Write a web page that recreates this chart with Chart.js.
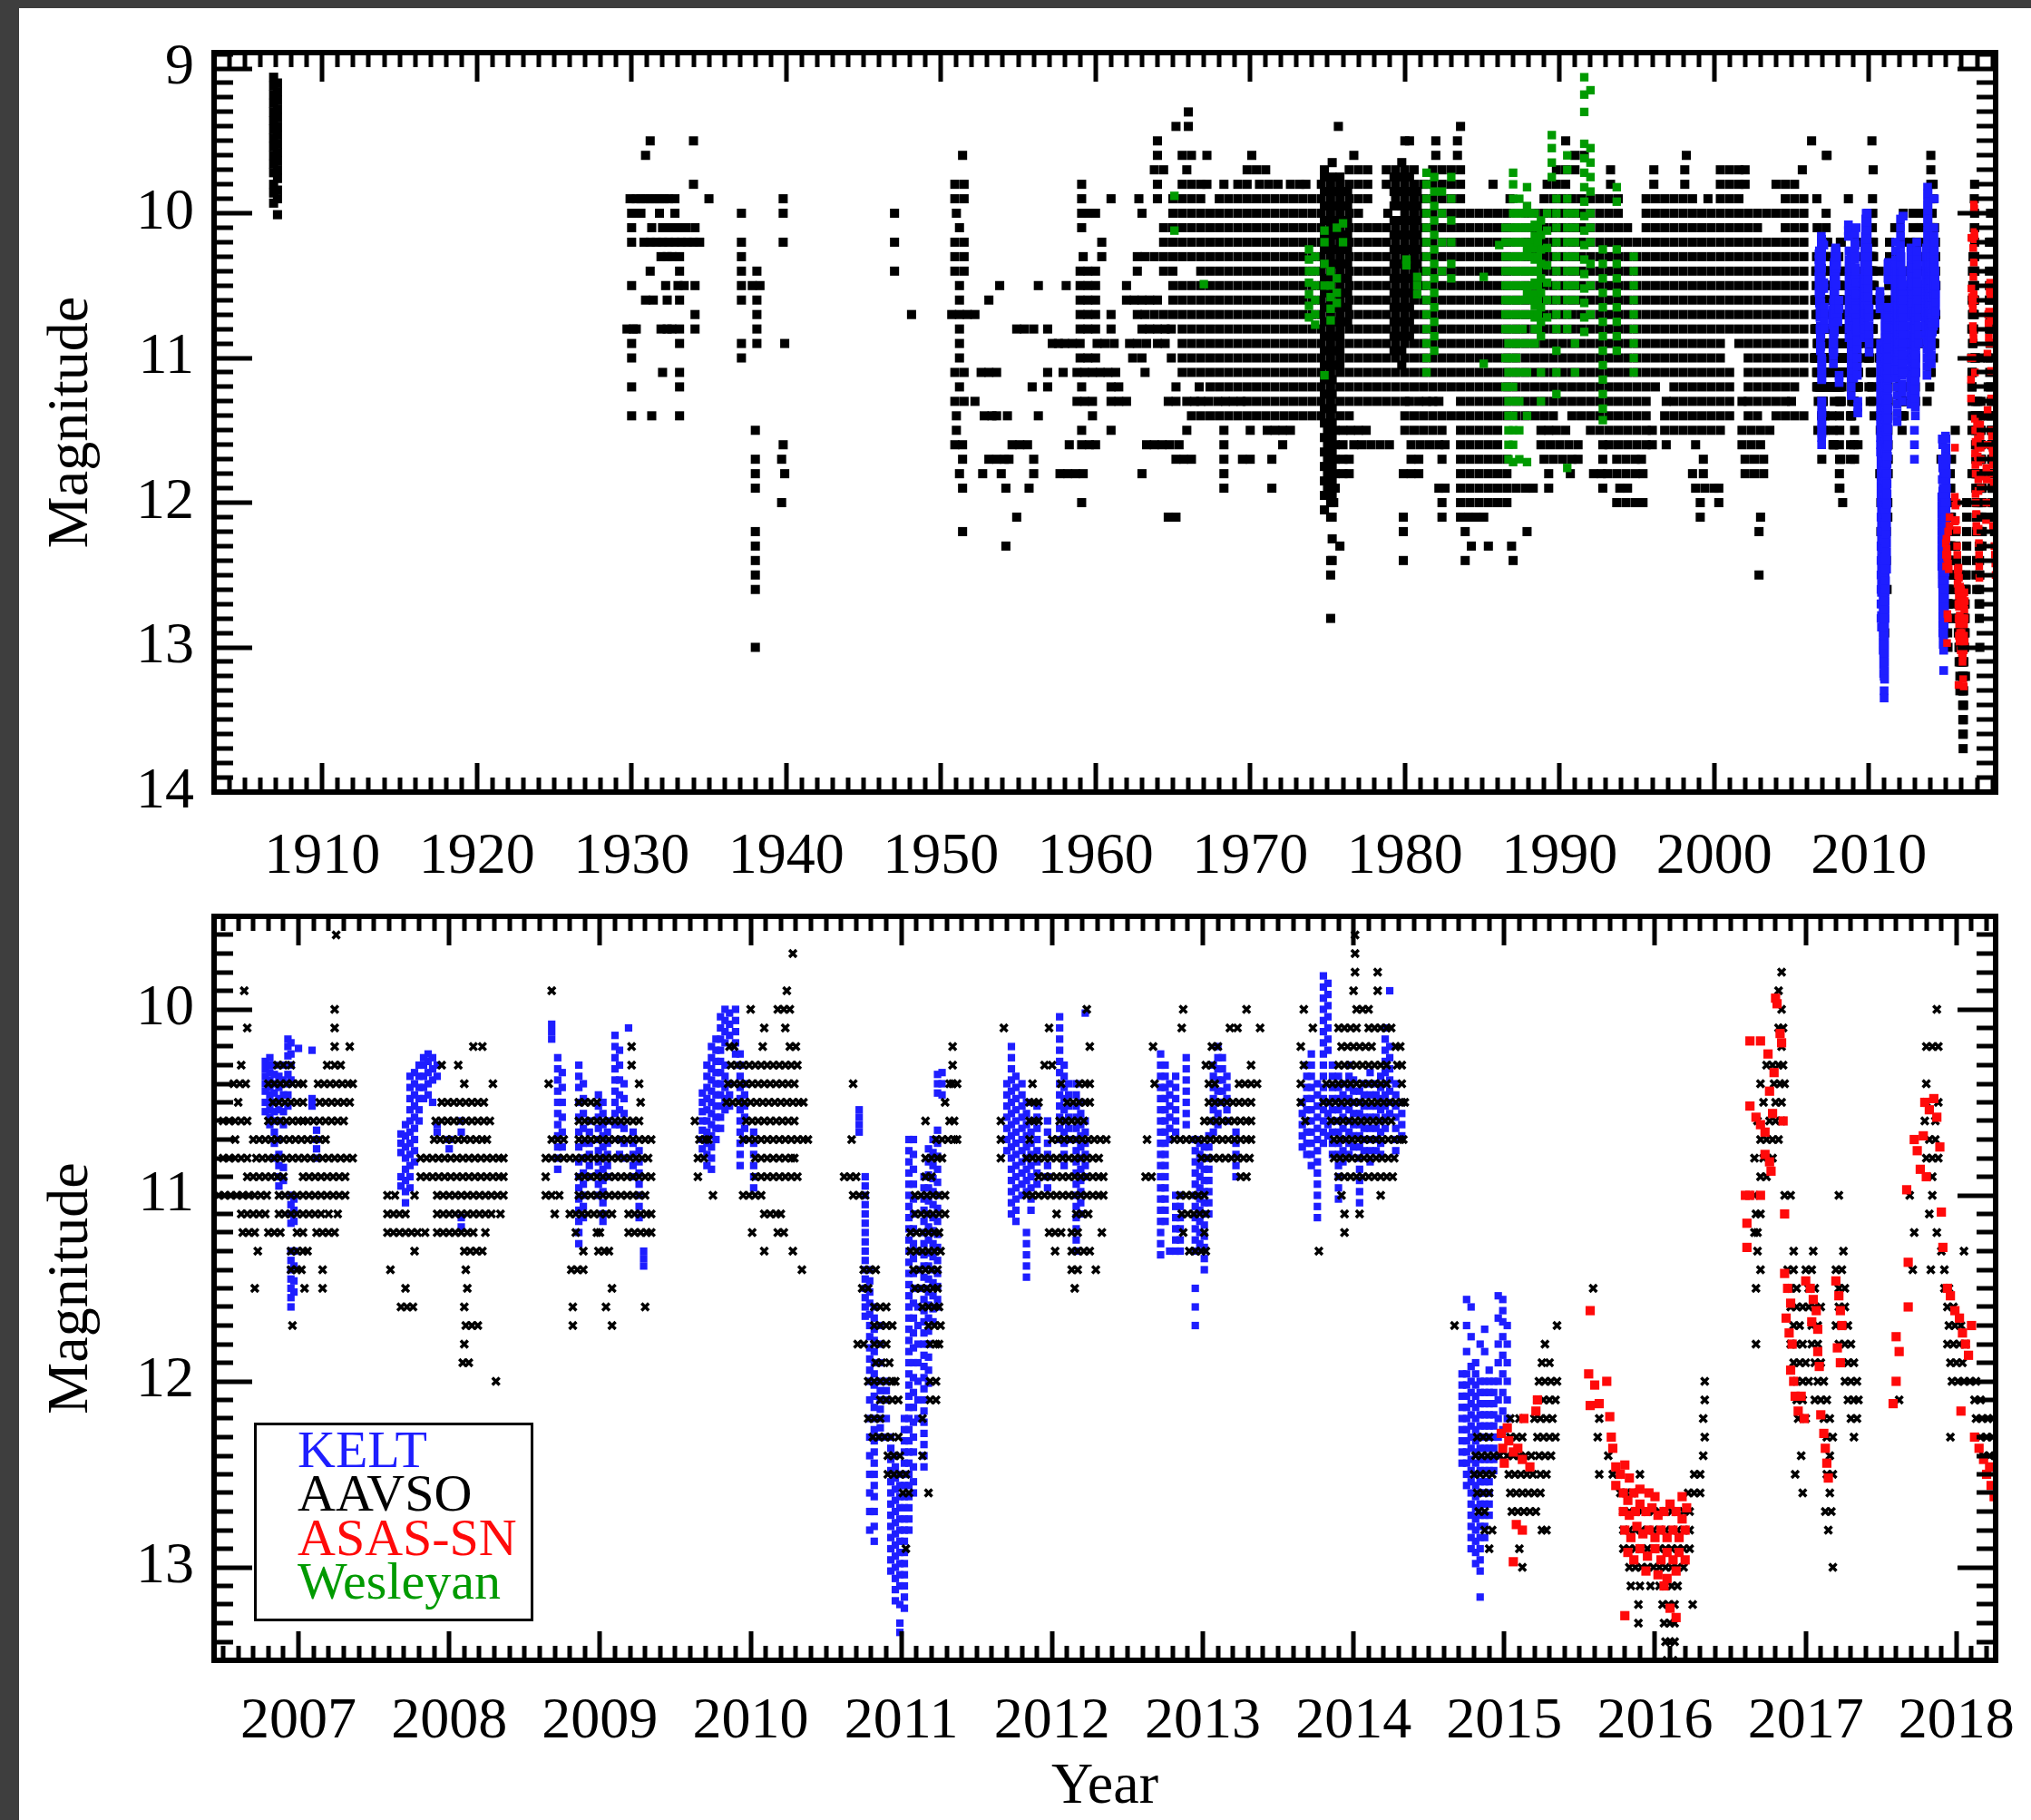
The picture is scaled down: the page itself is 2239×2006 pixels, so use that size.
<!DOCTYPE html>
<html><head><meta charset="utf-8">
<script src="https://cdn.jsdelivr.net/npm/chart.js@4.4.0/dist/chart.umd.min.js"></script>
<style>
html{scrollbar-width:none}
::-webkit-scrollbar{width:0;height:0;display:none}
html,body{margin:0;padding:0;background:#fff;width:2239px;height:2006px;overflow:hidden}
#edgeL{position:absolute;left:0;top:0;width:21px;height:2006px;background:#3e3e3e}
#edgeT{position:absolute;left:0;top:0;width:2239px;height:9px;background:#3e3e3e}
canvas{position:absolute;left:0}
#c1{top:0}
#c2{top:990px}
#legend{position:absolute;left:280px;top:1568px;width:308px;height:219px;box-sizing:border-box;border:3px solid #000;background:#fff;
 font-family:"Liberation Serif","Times New Roman",serif;font-size:58px;line-height:48.3px;padding:3px 0 0 45px;white-space:nowrap;z-index:5}
</style></head><body>
<div id="edgeL"></div><div id="edgeT"></div>
<canvas id="c1" width="2239" height="990"></canvas>
<canvas id="c2" width="2239" height="1024"></canvas>
<div id="legend"></div>
<script>
// ---------- series names / tick labels ----------
const seriesNames = ['KELT', 'AAVSO', 'ASAS-SN', 'Wesleyan'];
const topYearTicks = [1910, 1920, 1930, 1940, 1950, 1960, 1970, 1980, 1990, 2000, 2010];
const bottomYearTicks = [2007, 2008, 2009, 2010, 2011, 2012, 2013, 2014, 2015, 2016, 2017, 2018];
const topMagTicks = [9, 10, 11, 12, 13, 14];
const bottomMagTicks = [10, 11, 12, 13];

// ---------- KELT: [year, [magnitude x100 ...]] ----------
const keltCols = [
[2006.78,[1028,1032,1036,1040,1044,1050,1055]],
[2006.81,[1026,1030,1034,1038,1042,1046,1050,1054,1058,1062]],
[2006.84,[1030,1035,1040,1045,1050,1055,1060,1066,1072,1080]],
[2006.87,[1036,1042,1048,1054,1060,1070,1078,1084,1090,1095]],
[2006.90,[1030,1038,1046,1055,1062,1085,1092]],
[2006.93,[1016,1020,1025,1030,1035,1040,1046,1052]],
[2006.95,[1018,1024,1030,1038,1100,1105,1110,1115,1130,1135,1140,1145,1150,1155,1160]],
[2006.97,[1102,1108,1114,1130,1138,1146,1152]],
[2007.00,[1021]],
[2007.09,[1022,1048,1052]],
[2007.12,[1065,1070,1075,1080]],
[2007.68,[1067,1072,1077,1090,1095]],
[2007.71,[1062,1068,1074,1080,1086,1092,1098,1104]],
[2007.74,[1036,1042,1048,1054,1060,1066,1072,1078,1084,1090,1096]],
[2007.77,[1034,1040,1046,1052,1058,1064,1070,1076,1082]],
[2007.80,[1030,1036,1042,1048,1054,1060]],
[2007.83,[1026,1030,1036,1042,1048]],
[2007.86,[1024,1028,1034,1040,1046]],
[2007.89,[1026,1032,1038,1050]],
[2007.92,[1030,1036,1062,1066]],
[2008.00,[1070,1075]],
[2008.08,[1060,1066,1112,1117]],
[2008.68,[1008,1012,1016]],
[2008.72,[1026,1032,1038,1044,1050,1056,1062,1068,1074,1080,1086]],
[2008.75,[1034,1042,1050,1058,1066,1074]],
[2008.86,[1030,1036,1042,1050,1058,1066,1074,1082,1090,1096,1102,1108,1114,1120,1126]],
[2008.89,[1040,1048,1056,1064,1072,1080,1088,1094,1100,1106,1112]],
[2008.93,[1060,1066,1072,1078,1084,1090]],
[2008.99,[1046,1052,1058,1064,1070,1076,1082,1088,1094,1100]],
[2009.02,[1050,1056,1062,1068,1074,1080,1086,1092,1098,1104,1110,1114]],
[2009.05,[1060,1066,1072,1078,1084,1090]],
[2009.10,[1014,1020,1026,1032,1038,1044,1050,1056,1062]],
[2009.13,[1022,1030,1038,1046,1054,1062,1070,1078]],
[2009.16,[1040,1048,1056,1064,1072,1080]],
[2009.19,[1010]],
[2009.22,[1066,1072,1078,1084,1090]],
[2009.26,[1076,1082,1088,1094,1100,1106,1112]],
[2009.29,[1130,1134,1138]],
[2009.68,[1045,1050,1055,1060,1065,1070,1075]],
[2009.71,[1030,1036,1042,1048,1054,1060,1066,1072,1078,1084]],
[2009.74,[1020,1026,1032,1038,1044,1050,1056,1062,1068,1074,1080,1086]],
[2009.77,[1016,1022,1028,1034,1040,1046,1052,1058,1064,1070]],
[2009.80,[1004,1010,1016,1022,1028,1034,1040,1046,1052,1058,1064]],
[2009.83,[1000,1006,1012,1018,1030,1036,1042,1048,1054]],
[2009.86,[1002,1008,1014,1040,1046,1052]],
[2009.90,[1000,1006,1012,1018,1024]],
[2009.93,[1024,1030,1036,1042,1048,1054,1060,1066,1072,1078,1084]],
[2009.96,[1040,1046,1052,1058,1064,1070]],
[2010.02,[1066,1072,1078,1084,1090,1096]],
[2010.72,[1054,1058,1062,1066]],
[2010.76,[1090,1095,1100,1105,1110,1115,1120,1125,1130,1135,1140,1145,1150,1155,1160,1165]],
[2010.79,[1140,1146,1152,1158,1164,1170,1176,1182,1188,1194,1200,1210,1220,1230,1240,1250,1260,1270,1280]],
[2010.82,[1160,1166,1172,1178,1184,1190,1196,1202,1208,1214,1220,1226,1232,1238,1244,1250,1256,1262,1270,1278,1286]],
[2010.86,[1170,1180,1190,1200,1205,1210,1215,1220,1225,1230]],
[2010.90,[1200,1205,1210,1220,1230]],
[2010.93,[1230,1236,1242,1248,1254,1260,1266,1272,1278,1284,1290,1296,1302]],
[2010.96,[1240,1246,1252,1258,1264,1270,1276,1282,1288,1294,1300,1306,1312,1318]],
[2010.99,[1250,1256,1262,1268,1274,1280,1286,1292,1298,1304,1310,1320,1330,1335]],
[2011.02,[1220,1226,1232,1238,1244,1250,1256,1262,1268,1274,1280,1286,1292,1298,1304,1310,1316,1322]],
[2011.05,[1070,1076,1082,1088,1094,1100,1106,1112,1118,1124,1130,1136,1142,1148,1154,1160,1166,1172,1178,1184,1190,1196,1202,1208,1214,1220,1226,1232,1238,1244,1250,1256,1262,1268,1274,1280]],
[2011.08,[1070,1078,1086,1094,1102,1110,1118,1126,1134,1142,1150,1158,1166,1174,1182,1190,1198,1206,1214,1222,1230,1238,1246,1254,1260]],
[2011.11,[1130,1140,1150,1160,1170,1180,1190,1200,1210,1220]],
[2011.15,[1090,1096,1102,1108,1114,1120,1126,1132,1138,1144,1150,1156,1162,1168,1174,1180,1186,1192,1198,1204,1210,1216,1222,1228,1234,1240,1246]],
[2011.18,[1075,1082,1089,1096,1103,1110,1117,1124,1131,1138,1145,1152,1159,1166,1173,1180,1187,1194,1201]],
[2011.21,[1070,1077,1084,1091,1098,1105,1112,1119,1126,1133,1140,1147,1154,1161,1168]],
[2011.24,[1035,1040,1045,1065,1072,1079,1086,1093,1100,1107,1114,1121,1128,1135,1142,1149,1156,1160]],
[2011.27,[1034,1040,1046]],
[2011.70,[1040,1046,1052,1058,1064,1070,1076]],
[2011.73,[1020,1026,1032,1038,1044,1050,1056,1062,1068,1074,1080,1086,1092,1098,1104,1110]],
[2011.76,[1036,1042,1048,1054,1060,1066,1072,1078,1084,1090,1096,1102,1108,1114]],
[2011.80,[1040,1046,1052,1058,1064,1070,1076,1082,1088,1094,1100]],
[2011.83,[1050,1056,1062,1068,1074,1080,1086,1092,1098,1120,1126,1132,1138,1144]],
[2011.86,[1060,1066,1072,1078,1084,1090,1096,1102,1108]],
[2011.90,[1052,1058,1064,1070,1076,1082,1088,1094]],
[2011.97,[1060,1066,1072,1078,1084,1090,1096]],
[2012.05,[1004,1010,1016,1022,1028,1034,1040,1046,1052,1058,1064,1070]],
[2012.08,[1030,1036,1042,1048,1054,1060,1066,1072,1078,1084]],
[2012.11,[1040,1046,1052,1058,1064,1070]],
[2012.16,[1040,1046,1052,1058,1064,1070,1076,1082,1088,1094,1100,1106,1112,1118,1124,1130]],
[2012.19,[1050,1056,1062,1068,1074,1080,1086,1092,1098,1104,1110]],
[2012.22,[1002,1060,1066,1072,1078,1084,1090]],
[2012.72,[1024,1030,1036,1042,1048,1054,1060,1066,1072,1078,1084,1090,1096,1102,1108,1114,1120,1126,1132]],
[2012.75,[1030,1036,1042,1048,1054,1060,1066,1072,1078,1084,1090,1096,1102,1108,1114]],
[2012.78,[1040,1046,1052,1058,1064,1070,1130]],
[2012.82,[1036,1042,1048,1054,1060,1066,1100,1106,1112,1118,1124,1130]],
[2012.85,[1100,1106,1112,1118,1124,1130]],
[2012.89,[1026,1032,1038,1044,1050,1056,1062]],
[2012.95,[1070,1076,1082,1088,1094,1100,1106,1112,1118,1124,1130,1150,1160,1170]],
[2012.98,[1072,1078,1084,1090,1096,1102,1108,1114,1120,1126]],
[2013.01,[1074,1080,1086,1092,1098,1104,1110,1116,1122,1128,1134,1140]],
[2013.04,[1068,1074,1080,1086,1092,1098,1104,1110]],
[2013.07,[1030,1036,1042,1048,1054,1060,1066]],
[2013.10,[1020,1026,1032,1038,1044,1050,1056,1062]],
[2013.13,[1026,1032,1038,1044,1050]],
[2013.16,[1036,1042,1048,1054,1060]],
[2013.22,[1066,1072,1078,1084,1090]],
[2013.66,[1050,1056,1062,1068,1074]],
[2013.69,[1030,1036,1042,1048,1054,1060,1066,1072,1078]],
[2013.72,[1024,1030,1036,1042,1048,1054,1060,1066,1072,1078,1084]],
[2013.76,[1040,1046,1052,1058,1064,1070,1076,1082,1088,1094,1100,1106,1112]],
[2013.80,[982,988,994,1000,1006,1012,1018,1024,1030,1036,1042,1048,1054,1060,1066,1072]],
[2013.83,[986,992,998,1004,1010,1016,1022,1050,1056,1062,1068]],
[2013.86,[1030,1036,1042,1048,1054,1060,1066,1072,1078]],
[2013.90,[1036,1042,1048,1054,1060,1066,1072,1078,1084,1090,1096,1102]],
[2013.93,[1040,1046,1052,1058,1064,1070,1076,1082]],
[2013.97,[1030,1036,1042,1048,1054,1060,1066,1072,1078]],
[2014.00,[1038,1044,1050,1056,1062,1068,1074]],
[2014.04,[1044,1050,1056,1062,1068,1074,1080,1086,1092,1098,1104]],
[2014.07,[1040,1046,1052,1058,1064,1070,1076]],
[2014.11,[1034,1040,1046,1052,1058,1064,1070,1076,1082]],
[2014.15,[1040,1046,1052,1058,1064,1070,1076]],
[2014.18,[1036,1042,1048,1054,1060,1066,1072,1078]],
[2014.21,[1010,1016,1022,1028,1034,1040,1046,1052,1058,1064]],
[2014.24,[990,1020,1026,1032,1038,1044,1050,1056]],
[2014.28,[1040,1046,1052,1058,1064,1070,1076]],
[2014.32,[1050,1056,1062,1068]],
[2014.72,[1196,1202,1208,1214,1220,1226,1232,1238,1244]],
[2014.75,[1156,1170,1184,1196,1202,1208,1214,1220,1226,1232,1238,1244,1250,1256]],
[2014.78,[1160,1176,1192,1200,1206,1212,1218,1224,1230,1236,1242,1248,1254,1260,1266,1272,1278,1284,1290]],
[2014.81,[1190,1196,1202,1208,1214,1220,1226,1232,1238,1244,1250,1256,1262,1268,1274,1280,1286,1292,1298]],
[2014.84,[1180,1200,1206,1212,1218,1224,1230,1236,1242,1248,1254,1260,1266,1272,1278,1284,1290,1296,1302,1316]],
[2014.87,[1172,1184,1200,1206,1212,1218,1224,1230,1236,1242,1248,1254,1260,1266,1272,1278,1284]],
[2014.90,[1194,1200,1206,1212,1218,1224,1230,1236,1242,1248,1254,1260,1266,1272]],
[2014.93,[1200,1206,1212,1218,1224,1230,1236,1242,1248]],
[2014.96,[1154,1166,1180,1190,1200,1210,1220,1230,1240]],
[2014.99,[1156,1162,1168,1176,1186,1196,1206,1216,1226]],
[2015.02,[1170,1180,1190,1200,1210,1220]]
];

// ---------- AAVSO 2006-2018: [base year, magnitude, [hundredths of a year after base ...]] ----------
const aavsoRows = [
[2006,9.6,[125]],[2006,9.9,[64]],[2006,10.0,[124]],[2006,10.1,[66,124]],[2006,10.2,[124,134]],
[2006,10.3,[62,86,90,95,119,124,128]],
[2006,10.4,[57,61,65,80,84,88,92,96,100,103,113,117,121,125,129,133,136]],
[2006,10.5,[60,83,87,91,95,99,103,114,118,122,126,130,134]],
[2006,10.6,[50,54,58,62,66,80,84,88,92,96,100,103,106,110,114,118,122,126,130]],
[2006,10.7,[58,70,74,78,82,86,90,94,98,102,106,110,114,118]],
[2006,10.8,[50,54,58,62,66,72,76,80,84,88,92,96,100,104,108,112,116,120,124,128,132,136]],
[2006,10.9,[66,70,74,78,82,86,90,103,107,111,115,119,123,127,131]],
[2006,11.0,[47,51,55,59,63,67,71,75,79,87,91,95,99,103,107,111,115,119,123,127,131]],
[2006,11.1,[62,66,70,74,78,87,91,95,99,103,107,111,115,120,126]],
[2006,11.2,[63,67,71,80,84,88,99,103,112,116,120,124]],
[2006,11.3,[73,95,99,103,106]],[2006,11.4,[95,99,102,116]],[2006,11.5,[71,104,116]],[2006,11.7,[96]],
[2007,10.2,[116,122]],[2007,10.3,[95,106]],[2007,10.4,[110,129]],
[2007,10.5,[95,99,103,107,111,115,119,123]],
[2007,10.6,[91,95,99,103,107,111,115,119,123,127]],
[2007,10.7,[90,94,98,102,106,110,114,118,122,125]],
[2007,10.8,[81,85,89,93,97,101,105,109,113,117,121,125,129,133,136]],
[2007,10.9,[81,85,89,93,97,101,105,109,113,117,121,125,129,133,136]],
[2007,11.0,[59,64,77,92,96,100,104,108,112,116,120,124,128,132,136]],
[2007,11.1,[59,63,67,71,92,96,100,104,108,112,116,120,124,128,134]],
[2007,11.2,[59,63,67,71,75,79,84,92,96,100,104,108,112,116,124]],
[2007,11.3,[77,110,114,118,122]],[2007,11.4,[61,111]],[2007,11.5,[71,112]],[2007,11.6,[68,72,76,110]],
[2007,11.7,[111,115,119]],[2007,11.8,[110]],[2007,11.9,[109,113]],[2007,12.0,[131]],
[2008,9.9,[68]],[2008,10.2,[121]],[2008,10.3,[121]],[2008,10.4,[66,126]],[2008,10.5,[86,90,94,98,127]],
[2008,10.6,[86,90,94,98,102,106,110,114,118,122,126]],
[2008,10.7,[68,72,76,86,90,94,98,102,106,110,114,118,122,126,130,134]],
[2008,10.8,[64,68,72,76,80,84,88,92,96,100,104,108,112,116,120,124,128,132]],
[2008,10.9,[64,86,90,94,98,102,106,110,114,118,122,126,130,134]],
[2008,11.0,[64,68,73,86,90,94,98,102,106,110,114,118,122,126,130]],
[2008,11.1,[70,80,84,88,92,96,100,104,108,119,123,127,131,134]],
[2008,11.2,[84,98,100,119,123,127,131,134]],
[2008,11.3,[89,99,103,106]],[2008,11.4,[81,85,89]],[2008,11.5,[108]],[2008,11.6,[82,104,130]],[2008,11.7,[82,108]],
[2009,9.7,[128]],[2009,9.9,[124]],[2009,10.0,[100,118,122,126]],[2009,10.1,[109,123]],[2009,10.2,[86,89,108,126,130]],
[2009,10.3,[87,91,95,99,103,107,111,115,119,123,127,131]],
[2009,10.4,[85,89,93,97,101,105,109,113,117,121,125,129]],
[2009,10.5,[84,88,92,96,100,104,108,112,116,120,124,128,132,135]],
[2009,10.6,[63,97,101,105,109,113,117,121,125,129]],
[2009,10.7,[66,70,72,95,99,103,107,111,115,119,123,127,131,135,138]],
[2009,10.8,[65,69,103,107,111,115,119,123,127,129]],
[2009,10.9,[65,103,107,111,115,119,123,127,131]],
[2009,11.0,[75,95,99,103,107]],[2009,11.1,[109,113,117,120]],[2009,11.2,[101,118,122]],[2009,11.3,[109,128]],[2009,11.4,[134]],
[2010,10.2,[134]],[2010,10.3,[134]],[2010,10.4,[68,132,134,137]],[2010,10.5,[129]],[2010,10.6,[116,132,135]],
[2010,10.7,[67,123,127,131,135,137]],[2010,10.8,[116,120,124,127]],[2010,10.9,[62,66,70,116,120]],
[2010,11.0,[68,72,76,109,113,117,121,125,129]],[2010,11.1,[109,113,117,121,125,129]],
[2010,11.2,[106,110,114,118,122,125]],[2010,11.3,[106,110,114,118,122,126]],
[2010,11.4,[75,79,83,108,112,116,120,124]],[2010,11.5,[74,78,109,113,117,121,124]],
[2010,11.6,[82,86,90,114,118,122,125]],[2010,11.7,[82,86,90,94,118,122,126]],
[2010,11.8,[71,75,82,86,90,119,123,125]],[2010,11.9,[83,87,92]],
[2010,12.0,[78,82,86,90,94,96,119,123]],[2010,12.1,[86,90,94,98,119,123]],
[2010,12.2,[78,82,86,114]],[2010,12.3,[81,85,89,93,98]],[2010,12.4,[91,95,99,114]],
[2010,12.5,[91,95,99,103]],[2010,12.6,[101,105,118]],[2010,12.9,[103]],
[2011,10.0,[123]],[2011,10.1,[68,98]],[2011,10.2,[125]],[2011,10.3,[95,100]],[2011,10.4,[87,106,118,122,125]],
[2011,10.5,[85,88,91,110,114,118,122,125]],[2011,10.6,[66,85,88,91,105,109,113,117,121]],
[2011,10.7,[66,85,100,104,108,112,116,120,124,128,132,136]],
[2011,10.8,[66,83,87,91,95,99,103,107,111,115,119,123,127,131]],
[2011,10.9,[91,95,99,103,107,111,115,119,123,127,131,134]],
[2011,11.0,[83,87,91,95,99,103,107,111,115,119,123,127,131,134]],
[2011,11.1,[103,116,120,124]],[2011,11.2,[98,102,106,113,117,133]],[2011,11.3,[102,113,117,121,125]],
[2011,11.4,[113,117,129]],[2011,11.5,[115]],
[2012,10.0,[87,129]],[2012,10.1,[86,118,123,138]],[2012,10.2,[67,106,110]],[2012,10.3,[102,106,132]],
[2012,10.4,[68,104,108,124,128,132,136]],[2012,10.5,[104,108,112,116,120,124,128,132]],
[2012,10.6,[101,105,109,113,117,121,125,129,132]],
[2012,10.7,[63,81,85,89,93,97,101,105,109,113,117,121,125,129,132]],
[2012,10.8,[99,103,107,111,115,119,123,127,131]],[2012,10.9,[62,66,125,129]],
[2012,11.0,[85,89,93,97,101]],[2012,11.1,[86,90,94,98,102]],[2012,11.2,[87,101]],[2012,11.3,[91,95,99,102]],
[2013,9.6,[101]],[2013,9.7,[101]],[2013,9.8,[101,116]],[2013,9.9,[100,116]],[2013,10.0,[67,102,106,110]],
[2013,10.1,[73,90,94,98,102,110,114,118,122,125]],
[2013,10.2,[65,92,96,100,104,108,112,128,131]],
[2013,10.3,[67,90,94,98,102,106,110,114,118,122,129,132]],
[2013,10.4,[65,82,86,90,94,98,102,106,110,114,118,122,132]],
[2013,10.5,[65,80,84,88,92,96,100,104,108,112,116,120,124,128,132,134]],
[2013,10.6,[68,85,89,93,97,101,105,109,113,117,121,125]],
[2013,10.7,[87,91,95,99,103,107,111,115,119,123,127,131,133]],
[2013,10.8,[87,91,95,99,103,107,111,115,119,123,127]],
[2013,10.9,[90,94,98,102,106,110,114,118,122,126]],
[2013,11.0,[92,118]],[2013,11.1,[94,104]],[2013,11.2,[94]],[2013,11.3,[77]],
[2014,11.7,[67,135]],[2014,11.8,[127]],[2014,11.9,[125,130]],[2014,12.0,[123,127,131,135]],
[2014,12.1,[122,126,130,134]],[2014,12.2,[104,110,120,124,128,132]],
[2014,12.3,[82,86,90,104,108,112,122,126,130,134]],
[2014,12.4,[81,85,89,93,97,102,106,110,114,118,123,127,131]],
[2014,12.5,[80,84,88,92,103,107,111,115,119,124,128]],
[2014,12.6,[82,86,90,104,108,112,116,120,124]],
[2014,12.7,[83,87,105,109,113,117,121]],[2014,12.8,[87,92,125,128]],[2014,12.9,[90,110]],[2014,13.0,[112]],
[2015,11.5,[59]],[2015,12.0,[133]],[2015,12.1,[133]],[2015,12.2,[63,132]],[2015,12.3,[62,133]],[2015,12.4,[69,132]],
[2015,12.5,[63,72,76,90,126,130]],[2015,12.6,[77,81,85,122,126,130]],
[2015,12.7,[79,83,87,91,95,99,103,107,111,115,119,123]],
[2015,12.8,[79,83,87,91,95,99,103,107,111,115,119,123]],
[2015,12.9,[79,83,87,91,95,99,103,107,111,115,119,123]],
[2015,13.0,[83,87,91,95,99,103,107,111,115,119]],
[2015,13.1,[84,90,97,103,107,111,115]],[2015,13.2,[89,105,109,113,125]],
[2015,13.3,[89,106,110,113]],[2015,13.4,[107,110,113]],[2015,13.5,[108,112]],[2015,13.6,[108,111]],[2015,13.7,[110]],
[2016,9.8,[84]],[2016,9.9,[82]],[2016,10.0,[84]],[2016,10.1,[82,85]],[2016,10.2,[84]],
[2016,10.3,[74,78,82,85]],[2016,10.4,[70,79,83,86]],[2016,10.5,[72,80,84]],[2016,10.6,[68,76,80,84]],
[2016,10.7,[70,74,78,82]],[2016,10.8,[66,72,78]],[2016,10.9,[70,74]],[2016,11.0,[66,86,90,122]],
[2016,11.1,[67,70]],[2016,11.2,[66,68]],[2016,11.3,[68,92,105,125]],
[2016,11.4,[70,88,92,100,104,120,124]],[2016,11.5,[67,90,94,102,106,122,126]],
[2016,11.6,[90,94,98,102,106,110,122,126]],[2016,11.7,[92,96,104,108,120,124,128]],
[2016,11.8,[67,90,94,98,104,108,122,126,130]],[2016,11.9,[92,96,100,106,110,124,128,132]],
[2016,12.0,[94,98,102,108,112,126,130,134]],[2016,12.1,[94,98,106,110,114,128,132,135]],
[2016,12.2,[95,100,112,116,130,134]],[2016,12.3,[114,118,132]],[2016,12.4,[97,116]],
[2016,12.5,[93,114,118]],[2016,12.6,[98,116]],[2016,12.7,[113,117]],[2016,12.8,[115]],[2016,13.0,[118]],
[2017,10.0,[87]],[2017,10.2,[80,84,88]],[2017,10.4,[80]],[2017,10.5,[80,88]],[2017,10.6,[79,86]],
[2017,10.7,[82,86]],[2017,10.8,[80,84,88]],[2017,10.9,[84]],[2017,11.0,[69,84]],[2017,11.1,[82]],
[2017,11.2,[72,87]],[2017,11.3,[90,105]],[2017,11.4,[71,83,92]],[2017,11.5,[92,95]],[2017,11.6,[94,98]],
[2017,11.7,[95,99,103]],[2017,11.8,[94,98,102,106]],[2017,11.9,[96,100,104]],
[2017,12.0,[97,101,105,109,113]],[2017,12.1,[62,112,116]],[2017,12.2,[113,117,121,124]],
[2017,12.3,[96,116,120,124]],[2017,12.4,[118,122,126]],[2017,12.5,[106,120,124,127]],[2017,12.6,[124,127]]
];

// ---------- ASAS-SN: [year, magnitude] ----------
const asasPts = [
[2014.98,12.28],[2014.99,12.36],[2015.00,12.44],[2015.02,12.25],[2015.03,12.32],[2015.06,12.38],[2015.09,12.36],
[2015.12,12.42],[2015.13,12.20],[2015.17,12.46],[2015.21,12.16],[2015.22,12.10],[2015.08,12.77],[2015.12,12.80],[2015.06,12.97],
[2015.57,11.62],[2015.56,11.96],[2015.60,12.02],[2015.63,12.12],[2015.57,12.13],[2015.68,12.00],[2015.70,12.19],
[2015.71,12.30],[2015.72,12.36],[2015.74,12.46],[2015.77,12.50],[2015.80,12.45],[2015.83,12.52],[2015.79,12.60],
[2015.82,12.64],[2015.86,12.60],[2015.79,12.70],[2015.83,12.72],[2015.87,12.70],[2015.90,12.66],[2015.94,12.70],
[2015.98,12.68],[2016.02,12.72],[2016.06,12.70],[2016.10,12.66],[2016.14,12.70],[2016.18,12.74],[2016.21,12.68],
[2015.80,12.80],[2015.84,12.84],[2015.88,12.78],[2015.92,12.82],[2015.96,12.80],[2016.00,12.84],[2016.04,12.80],
[2016.08,12.84],[2016.12,12.80],[2016.16,12.84],[2016.20,12.80],[2015.82,12.92],[2015.86,12.96],[2015.90,12.90],
[2015.95,12.94],[2016.00,12.90],[2016.04,12.96],[2016.08,12.92],[2016.12,12.96],[2016.16,12.92],[2016.20,12.96],
[2015.94,13.02],[2016.02,13.04],[2016.08,13.06],[2016.14,13.02],[2016.06,13.10],[2015.80,13.26],[2016.10,13.22],
[2016.14,13.27],[2015.74,12.56],[2015.90,12.58],[2016.00,12.62],[2016.18,12.62],[2015.96,12.60],
[2016.60,11.00],[2016.63,11.00],[2016.61,11.15],[2016.61,11.28],[2016.63,10.17],[2016.70,10.17],[2016.63,10.52],
[2016.67,10.58],[2016.70,10.62],[2016.73,10.66],[2016.75,10.24],[2016.78,10.56],[2016.80,9.94],[2016.81,9.97],
[2016.83,10.13],[2016.84,10.18],[2016.85,10.60],[2016.73,10.78],[2016.76,10.82],[2016.77,10.87],[2016.70,11.00],
[2016.86,11.10],[2016.86,11.42],[2016.88,11.50],[2016.90,11.58],[2016.87,11.66],[2016.89,11.74],[2016.91,11.80],
[2016.90,11.94],[2016.92,12.00],[2016.93,12.08],[2016.95,12.16],[2016.97,12.08],[2016.99,12.20],[2017.00,11.46],
[2017.03,11.50],[2017.05,11.56],[2017.07,11.62],[2017.04,11.68],[2017.08,11.72],[2017.08,11.84],[2017.09,11.92],
[2017.10,12.18],[2017.12,12.28],[2017.13,12.36],[2017.14,12.44],[2017.15,12.52],[2017.20,11.46],[2017.22,11.54],
[2017.23,11.62],[2017.24,11.70],[2017.21,11.82],[2017.23,11.90],[2016.79,10.34],[2016.76,10.44],
[2017.60,11.76],[2017.62,11.84],[2017.60,12.00],[2017.58,12.12],[2017.68,11.36],[2017.68,11.60],[2017.67,10.97],
[2017.72,10.70],[2017.74,10.76],[2017.76,10.86],[2017.78,10.68],[2017.80,10.90],[2017.79,10.50],[2017.82,10.54],
[2017.85,10.48],[2017.87,10.58],[2017.89,10.74],[2017.90,11.09],[2017.91,11.28],[2017.94,11.50],[2017.96,11.54],
[2017.99,11.62],[2018.02,11.66],[2018.04,11.74],[2018.06,11.80],[2018.08,11.86],[2018.10,11.70],[2018.03,12.16],
[2018.12,12.30],[2018.15,12.36],[2018.18,12.42],[2018.20,12.50],[2018.23,12.56],[2018.25,12.62],[2018.22,12.46]
];

// ---------- historical AAVSO (top panel): [magnitude, [tenths of a year after 1900 ...]] ----------
const aavsoHistRows = [
[9.3,[660]],
[9.4,[652,660,757,836]],
[9.5,[312,340,640,800,803,820,834,904,1063,1102]],
[9.6,[309,514,640,656,662,672,701,767,820,834,910,916,982,1073]],
[9.7,[638,644,659,698,704,710,748,764,770,776,788,794,800,806,818,824,830,836,898,904,910,933,961,981,1004,1010,1016,1020,1057]],
[9.8,[340,509,515,591,640,656,662,668,672,683,692,698,706,712,718,726,732,736,746,752,758,764,770,776,788,794,800,806,812,818,824,830,836,857,892,898,904,933,961,981,1004,1010,1016,1020,1040,1046,1052]],
[9.9,[299,303,306,309,312,315,318,321,324,328,350,398,509,515,591,610,628,640,650,656,662,668,680,686,692,698,704,710,716,722,728,734,740,746,752,758,764,770,776,794,800,806,812,818,824,830,836,868,890,896,902,908,914,920,926,932,938,956,962,968,974,980,986,996,1004,1010,1016,1046,1052,1058]],
[10.0,[300,303,306,318,328,371,398,470,510,591,595,600,630,650,656,662,668,674,680,686,692,698,704,710,716,722,728,734,740,746,752,758,764,770,789,800,806,812,818,824,830,836,842,848,854,860,866,872,878,884,890,896,902,908,914,920,926,932,938,956,962,968,974,980,986,992,998,1004,1010,1016,1022,1028,1034,1040,1046,1052,1058]],
[10.1,[300,313,320,325,330,335,341,512,591,644,650,656,662,668,674,680,686,692,698,704,710,716,722,728,734,740,746,752,758,764,770,776,782,788,794,800,806,812,818,824,830,836,842,848,854,860,866,872,878,884,890,896,902,908,914,920,926,932,938,944,956,962,968,974,980,986,992,998,1004,1010,1016,1022,1028,1046,1052,1058]],
[10.2,[300,308,312,316,320,324,328,332,336,340,344,371,398,470,509,515,604,644,650,656,662,668,674,680,686,692,698,704,710,716,722,728,734,740,746,752,758,764,770,776,782,788,794,800,806,812,818,824,830,836,842,848,854,860,866,872,878,884,890,896,902,908,914,920,926,932,938,944,950,956,962,968,974,980,986,992,998,1004,1010,1016,1022,1028,1034,1040,1046,1052,1058]],
[10.3,[319,323,326,331,371,509,515,592,604,627,632,638,644,650,656,662,668,674,680,686,692,698,704,710,716,722,728,734,740,746,752,758,764,770,776,782,788,794,800,806,812,818,824,830,836,842,848,854,860,866,872,878,884,890,896,902,908,914,920,926,932,938,944,950,956,962,968,974,980,986,992,998,1004,1010,1016,1022,1028,1034,1040,1046,1052,1058]],
[10.4,[312,331,371,381,470,509,515,590,595,600,627,644,650,668,674,680,686,692,698,704,710,716,722,728,734,740,746,752,758,764,770,776,782,788,794,800,806,812,818,824,830,836,842,848,854,860,866,872,878,884,890,896,902,908,914,920,926,932,938,944,950,956,962,968,974,980,986,992,998,1004,1010,1016,1022,1028,1034,1040,1046,1052,1058]],
[10.5,[300,322,330,334,341,371,378,383,512,538,563,581,590,595,600,620,650,656,662,668,674,680,686,692,698,704,710,716,722,728,734,740,746,752,758,764,770,776,782,788,794,800,806,812,818,824,830,836,842,848,854,860,866,872,878,884,890,896,902,908,914,920,926,932,938,944,950,956,962,968,974,980,986,992,998,1004,1010,1016,1022,1028,1034,1040,1046,1052,1058]],
[10.6,[309,314,323,331,371,381,512,531,590,595,600,620,625,630,635,640,650,656,662,668,674,680,686,692,698,704,710,716,722,728,734,740,746,752,758,764,770,776,782,788,794,800,806,812,818,824,830,836,842,848,854,860,866,872,878,884,890,896,902,908,914,920,926,932,938,944,950,956,962,968,974,980,986,992,998,1004,1010,1016,1022,1028,1034,1040,1046,1052,1058]],
[10.7,[341,381,481,507,512,517,522,590,595,600,610,627,632,638,644,650,656,662,668,674,680,686,692,698,704,710,716,722,728,734,740,746,752,758,764,770,776,782,788,794,800,806,812,818,824,830,836,842,848,854,860,866,872,878,884,890,896,902,908,914,920,926,932,938,944,950,956,962,968,974,980,986,992,998,1004,1010,1016,1022,1028,1034,1040,1046,1052,1058]],
[10.8,[297,301,303,319,323,326,331,341,381,512,549,554,560,569,590,595,600,610,630,635,640,645,649,656,662,668,674,680,686,692,698,704,710,716,722,728,734,740,746,752,758,764,770,776,782,788,794,800,806,812,818,824,830,836,842,848,854,860,866,872,878,884,890,896,902,908,914,920,926,932,938,944,950,956,962,968,974,980,986,992,998,1004,1010,1016,1022,1028,1034,1040,1046,1052,1058]],
[10.9,[300,331,371,381,399,512,572,576,580,585,590,601,606,612,622,627,633,640,645,656,662,668,674,680,686,692,698,704,710,716,722,728,734,740,746,752,758,764,770,776,782,788,794,800,806,812,818,824,830,836,842,848,854,860,866,872,878,884,890,896,902,908,914,920,926,932,938,944,950,956,962,968,974,980,986,992,998,1004,1016,1022,1028,1034,1040,1046,1052,1058]],
[11.0,[300,371,512,590,595,600,624,630,649,656,662,668,674,680,686,692,698,704,710,716,722,728,734,740,746,752,758,764,770,776,782,788,794,800,806,812,818,824,830,836,842,848,854,860,866,872,878,884,890,896,902,908,914,920,926,932,938,944,950,956,962,968,974,980,986,992,998,1004,1022,1028,1034,1040,1046,1052,1058]],
[11.1,[320,331,509,515,526,531,536,569,579,588,593,598,603,608,613,632,656,662,668,674,680,686,692,698,704,710,716,722,728,734,740,746,752,758,764,770,776,782,788,794,800,806,812,818,824,830,836,842,848,854,860,866,872,878,884,890,896,902,908,914,920,926,932,938,944,950,956,962,968,974,980,986,992,998,1004,1010,1022,1028,1034,1040,1046,1052,1058]],
[11.2,[300,331,512,559,569,591,610,615,652,667,674,680,686,692,698,704,710,716,722,728,734,740,746,752,758,764,770,776,782,788,794,800,806,812,818,824,830,836,842,848,854,860,866,872,878,884,890,896,902,908,914,920,926,932,938,944,950,956,962,974,980,986,992,998,1004,1010,1022,1028,1034,1040,1046,1052]],
[11.3,[509,515,522,588,593,598,610,615,620,647,652,659,664,668,673,679,684,689,694,698,704,710,716,722,728,734,740,746,752,758,764,770,776,782,788,794,800,803,809,814,818,822,836,842,848,854,860,866,872,878,884,890,896,902,908,914,920,926,932,938,944,950,956,969,974,980,986,992,998,1004,1010,1018,1022,1028,1034,1040,1046,1050]],
[11.4,[300,313,331,510,528,533,536,543,563,598,662,668,674,680,686,692,698,704,710,716,722,728,734,740,746,752,758,764,800,806,812,818,824,830,836,842,848,854,860,866,872,878,884,890,896,908,914,920,926,932,938,944,950,956,968,974,980,986,992,998,1004,1010,1022,1028,1040,1046,1052,1058]],
[11.5,[380,510,591,610,659,683,700,711,716,721,726,750,755,760,765,770,775,800,806,812,818,824,836,842,848,854,860,888,893,898,904,920,926,932,938,944,950,956,960,968,974,980,986,992,998,1004,1018,1024,1030,1036]],
[11.6,[398,509,514,546,551,556,583,591,596,600,633,638,643,648,654,683,721,750,755,760,767,772,778,784,790,804,810,816,822,826,836,842,848,854,860,888,894,900,906,912,928,932,938,944,950,956,960,969,988,1018,1024,1030]],
[11.7,[380,397,514,531,536,541,544,560,652,657,662,683,695,700,714,750,755,760,764,804,809,824,836,842,848,854,860,866,890,896,902,908,912,928,937,943,949,953,993,1020,1026,1032]],
[11.8,[380,399,512,527,539,560,577,582,587,592,630,683,750,755,760,764,799,804,809,836,842,848,854,860,866,893,907,922,927,931,937,943,949,954,986,993,1020,1026,1032]],
[11.9,[380,514,542,557,683,714,750,755,822,826,836,842,848,854,860,866,872,878,883,893,928,939,944,988,994,1000,1003]],
[12.0,[397,591,752,754,824,836,842,848,854,860,866,937,943,949,954,991,1003]],
[12.1,[549,647,652,752,799,824,836,841,846,851,991,1030]],
[12.2,[380,514,799,839,879,1029]],
[12.3,[380,542,758,843,854,869]],
[12.4,[380,752,799,839,870]],
[12.5,[380,752,1029]],
[12.6,[380]],
[12.8,[752]],
[13.0,[380]]
];

// ---------- historical AAVSO, non-quantised runs (top panel): [year, [magnitude x100 ...]] ----------
const aavsoHistCols = [
[1906.85,[906,912,918,924,930,936,942,948,954,960,966,972,980,986,993]],
[1907.10,[910,916,922,928,934,940,946,952,958,964,970,976,984,990,1001]],
[1974.8,[975,985,995,1005,1015,1025,1035,1045,1055,1065,1075,1085,1095,1105,1115,1125,1135,1145,1155,1165,1175,1185,1195,1205]],
[1975.3,[965,975,985,995,1005,1015,1025,1035,1045,1055,1065,1075,1085,1095,1105,1115,1125,1135,1145,1155,1165,1175,1185,1195,1210,1225,1240]],
[1975.8,[975,985,995,1005,1015,1025,1035,1045,1055,1065,1075,1085,1095,1105]],
[1976.3,[985,995,1005,1015,1025,1035,1045,1055,1065,1075]],
[1979.3,[975,985,995,1005,1015,1025,1035,1045,1055,1065,1075,1085,1095]],
[1979.8,[965,975,985,995,1005,1015,1025,1035,1045,1055,1065,1075,1085,1095,1105]],
[1980.3,[975,985,995,1005,1015,1025,1035,1045,1055,1065,1075,1085]],
[1980.8,[985,995,1005,1015,1025,1035,1045]]
];

// ---------- Wesleyan: [year, [magnitude x100 ...]] ----------
const wesleyanCols = [
[1965.1,[988,1012]],[1967.0,[1049]],
[1973.8,[1025,1032,1040,1048,1056,1064,1072]],
[1974.2,[1030,1040,1050,1060,1070,1077]],
[1974.8,[1012,1020,1035,1050,1112]],
[1975.2,[1040,1050,1058,1066,1074]],
[1975.6,[1010,1045,1055,1062]],
[1976.0,[1007,1020]],
[1980.1,[1032,1036]],
[1980.8,[1044,1050,1056]],
[1981.4,[972,980,990,1000,1010,1020,1030,1040,1050,1060,1070,1080,1090,1100,1110]],
[1981.9,[975,985,995,1005,1015,1025,1035,1045,1055,1065,1075,1085,1095]],
[1982.4,[985,1000,1020,1040]],
[1983.0,[975,990,1005,1020,1035,1045]],
[1985.1,[1044,1104]],[1986.1,[1022]],
[1986.5,[1010,1020,1030,1040,1050,1060,1070,1080,1100,1120]],
[1986.7,[1050,1060,1070,1080,1090,1100,1110,1120,1130,1140,1150,1160,1170]],
[1987.0,[972,980,990,1000,1010,1020,1030,1040,1050,1060,1070,1080,1090,1100,1110,1120,1130,1140,1150,1160,1172]],
[1987.2,[1000,1010,1020,1030,1040,1050,1060,1070,1080,1090,1100]],
[1987.4,[990,1000,1010,1020,1030,1040,1050,1060,1070,1080,1090,1110,1130,1150,1170]],
[1987.6,[1000,1010,1020,1030,1040,1050,1060,1070,1080]],
[1987.9,[982,995,1010,1025,1040,1055,1070,1090,1110,1140,1172]],
[1988.1,[1000,1010,1020,1030,1040,1050,1060,1070]],
[1988.4,[1000,1008,1016,1024,1032,1040,1048,1056,1064,1072,1080,1090]],
[1988.6,[1010,1020,1030,1040,1050,1060,1070,1080]],
[1988.8,[1005,1015,1025,1035,1045,1055,1065,1075,1085,1110,1130]],
[1989.2,[1000,1012,1024,1036,1048,1060,1072]],
[1989.5,[946,955,965,975]],
[1989.8,[990,1000,1010,1020,1030,1040,1050,1060,1070,1080,1095,1110,1125]],
[1990.5,[960,970,990,1000,1010,1020,1030,1040,1050,1060,1070,1080,1176]],
[1991.0,[1000,1010,1020,1030,1040,1050,1060,1090,1110]],
[1991.6,[906,918,930,952,962,972,982,992,1002,1012,1022,1032,1042,1052,1062,1072,1082]],
[1992.0,[915,955,965,975,985,1000,1010,1020,1035,1050,1070]],
[1992.8,[1025,1035,1045,1055,1065,1075,1085,1095,1105,1115,1125,1135,1143]],
[1993.7,[982,992,1025,1035,1045,1055,1065,1075,1085,1095]],
[1994.8,[1030,1040,1050,1060,1070,1080,1090,1100,1110]]
];

// ---------- build point lists from the tables ----------
function fromCols(cols){const p=[];cols.forEach(([x,ms])=>ms.forEach(m=>p.push({x:x,y:m/100})));return p;}
function fromRows(rows){const p=[];rows.forEach(([b,m,offs])=>offs.forEach(o=>p.push({x:b+o/100,y:m})));return p;}
function fromHistRows(rows){const p=[];rows.forEach(([m,ts])=>ts.forEach(t=>p.push({x:1900+t/10,y:m})));return p;}
function fromPairs(arr){return arr.map(([x,y])=>({x:x,y:y}));}

const keltPts = fromCols(keltCols);
const aavsoRecentPts = fromRows(aavsoRows);
const aavsoHistPts = fromHistRows(aavsoHistRows).concat(fromCols(aavsoHistCols));
const asasPtsXY = fromPairs(asasPts);
const wesPts = fromCols(wesleyanCols);

// ---------- styling ----------
const colors = {KELT:'#1e1eff', AAVSO:'#000000', 'ASAS-SN':'#ff0a0a', Wesleyan:'#009a00'};
const FONT = '"Liberation Serif","Times New Roman",serif';

document.getElementById('legend').innerHTML = seriesNames.map(n =>
  '<div style="color:' + colors[n] + '">' + n + '</div>').join('');

const idlFrame = {
  id: 'idlFrame',
  afterDatasetsDraw(chart, args, o) {
    const {ctx, chartArea: a} = chart;
    const xs = chart.scales.x, ys = chart.scales.y;
    const isMajor = (v, list) => list.some(t => Math.abs(t - v) < 1e-6);
    ctx.save();
    ctx.strokeStyle = '#000';
    ctx.lineWidth = 5;
    ctx.beginPath();
    for (let i = Math.ceil(xs.min / o.xMinor - 1e-9); i * o.xMinor <= xs.max + 1e-9; i++) {
      const v = +(i * o.xMinor).toFixed(4);
      const px = Math.round(xs.getPixelForValue(v));
      const len = isMajor(v, o.xMajor) ? o.xLen[0] : o.xLen[1];
      ctx.moveTo(px, a.bottom); ctx.lineTo(px, a.bottom - len);
      ctx.moveTo(px, a.top); ctx.lineTo(px, a.top + len);
    }
    for (let i = Math.ceil(ys.min / o.yMinor - 1e-9); i * o.yMinor <= ys.max + 1e-9; i++) {
      const v = +(i * o.yMinor).toFixed(4);
      const py = Math.round(ys.getPixelForValue(v));
      const len = isMajor(v, o.yMajor) ? o.yLen[0] : o.yLen[1];
      ctx.moveTo(a.left, py); ctx.lineTo(a.left + len, py);
      ctx.moveTo(a.right, py); ctx.lineTo(a.right - len, py);
    }
    ctx.stroke();
    ctx.lineWidth = 6;
    ctx.strokeRect(a.left, a.top, a.right - a.left, a.bottom - a.top);
    ctx.restore();
  }
};

function rectSet(label, pts, radius, order) {
  return {label: label, data: pts, order: order, pointStyle: 'rect', pointRadius: radius,
    pointBackgroundColor: colors[label], pointBorderWidth: 0, pointBorderColor: colors[label],
    showLine: false, clip: 0, pointHoverRadius: radius};
}
function crossSet(label, pts, radius, width, order) {
  return {label: label, data: pts, order: order, pointStyle: 'crossRot', pointRadius: radius,
    pointBorderColor: colors[label], pointBorderWidth: width, pointBackgroundColor: colors[label],
    showLine: false, clip: 0, pointHoverRadius: radius};
}

function buildChart(id, o) {
  const tickFont = {family: FONT, size: 64};
  return new Chart(document.getElementById(id), {
    type: 'scatter',
    data: {datasets: o.datasets},
    options: {
      responsive: false, animation: false, events: [], parsing: false,
      layout: {padding: {top: o.padTop, right: 39, left: 0, bottom: 0}},
      plugins: {legend: {display: false}, tooltip: {enabled: false}, idlFrame: o.frame},
      scales: {
        x: {type: 'linear', position: 'bottom', min: o.xmin, max: o.xmax,
          grid: {display: false, drawTicks: false}, border: {display: false},
          ticks: {font: tickFont, color: '#000', padding: o.xPad, autoSkip: false, maxRotation: 0, minRotation: 0,
            callback: v => String(v)},
          afterBuildTicks: s => { s.ticks = o.xTicks.map(v => ({value: v})); },
          afterFit: s => { s.height = o.xHeight; s.paddingLeft = 0; s.paddingRight = 0; },
          title: o.xTitle ? {display: true, text: o.xTitle, font: tickFont, color: '#000', padding: {top: 0, bottom: 5}} : {display: false}
        },
        y: {type: 'linear', position: 'left', min: o.ymin, max: o.ymax, reverse: true,
          grid: {display: false, drawTicks: false}, border: {display: false},
          ticks: {font: tickFont, color: '#000', padding: 22, autoSkip: false, callback: v => String(v)},
          afterBuildTicks: s => { s.ticks = o.yTicks.map(v => ({value: v})); },
          afterFit: s => { s.width = 236; s.paddingTop = 0; s.paddingBottom = 0; },
          title: {display: true, text: 'Magnitude', font: tickFont, color: '#000', padding: {top: 41, bottom: 0}}
        }
      }
    },
    plugins: [idlFrame]
  });
}

// top: full history
buildChart('c1', {
  padTop: 58, xHeight: 117, xPad: 34, xmin: 1903.0, xmax: 2018.2, ymin: 8.89, ymax: 14.0,
  xTicks: topYearTicks, yTicks: topMagTicks,
  frame: {xMinor: 1, yMinor: 0.1, xMajor: topYearTicks, yMajor: topMagTicks, xLen: [32, 16], yLen: [42, 21]},
  datasets: [
    rectSet('Wesleyan', wesPts, 6.6, 0),
    rectSet('ASAS-SN', asasPtsXY, 6.0, 1),
    rectSet('KELT', keltPts, 6.8, 2),
    rectSet('AAVSO', aavsoHistPts.concat(aavsoRecentPts), 7.1, 3)
  ]
});

// bottom: 2006-2018
buildChart('c2', {
  padTop: 20, xHeight: 184, xPad: 30, xmin: 2006.44, xmax: 2018.26, ymin: 9.5, ymax: 13.5,
  xTicks: bottomYearTicks, yTicks: bottomMagTicks, xTitle: 'Year',
  frame: {xMinor: 0.1, yMinor: 0.1, xMajor: bottomYearTicks, yMajor: bottomMagTicks, xLen: [32, 16], yLen: [42, 21]},
  datasets: [
    rectSet('ASAS-SN', asasPtsXY, 7.2, 0),
    crossSet('AAVSO', aavsoRecentPts, 5.6, 3.4, 1),
    rectSet('KELT', keltPts, 5.8, 2)
  ]
});
</script>
</body></html>
